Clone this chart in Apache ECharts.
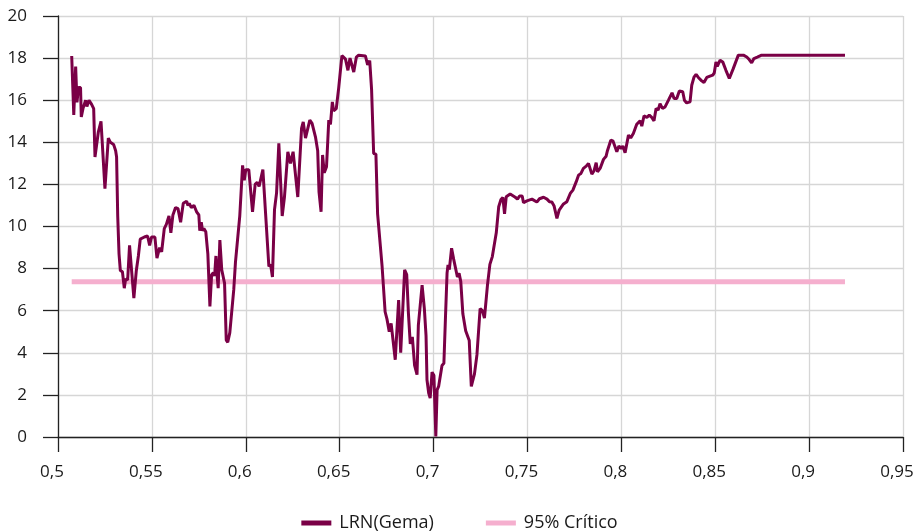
<!DOCTYPE html>
<html>
<head>
<meta charset="utf-8">
<script src="https://cdn.jsdelivr.net/npm/echarts@6/dist/echarts.min.js"></script>
<style>
  html, body { margin: 0; padding: 0; background: #fff; }
  #chart { width: 919px; height: 531px; }
</style>
</head>
<body>
<div id="chart"></div>
<script>
"use strict";

// ── Datos ─────────────────────────────────────────────────────────────────
const xVals = [
  0.5073, 0.5084, 0.5094, 0.5101, 0.5109, 0.5120, 0.5124, 0.5133, 0.5147, 0.5154,
  0.5165, 0.5179, 0.5190, 0.5197, 0.5215, 0.5229, 0.5239, 0.5250, 0.5268, 0.5279,
  0.5296, 0.5307, 0.5312, 0.5318, 0.5325, 0.5332, 0.5343, 0.5353, 0.5360, 0.5371,
  0.5381, 0.5404, 0.5417, 0.5428, 0.5438, 0.5460, 0.5477, 0.5488, 0.5498, 0.5516,
  0.5527, 0.5541, 0.5552, 0.5566, 0.5577, 0.5591, 0.5601, 0.5612, 0.5626, 0.5639,
  0.5653, 0.5667, 0.5685, 0.5692, 0.5699, 0.5710, 0.5724, 0.5738, 0.5750, 0.5755,
  0.5763, 0.5770, 0.5777, 0.5787, 0.5798, 0.5809, 0.5818, 0.5827, 0.5834, 0.5841,
  0.5848, 0.5853, 0.5862, 0.5872, 0.5880, 0.5887, 0.5896, 0.5904, 0.5915, 0.5924,
  0.5936, 0.5945, 0.5954, 0.5968, 0.5983, 0.5992, 0.6000, 0.6016, 0.6036, 0.6050,
  0.6061, 0.6071, 0.6091, 0.6123, 0.6132, 0.6142, 0.6153, 0.6164, 0.6176, 0.6194,
  0.6206, 0.6224, 0.6238, 0.6252, 0.6277, 0.6297, 0.6306, 0.6318, 0.6341, 0.6353,
  0.6371, 0.6383, 0.6390, 0.6401, 0.6409, 0.6418, 0.6430, 0.6442, 0.6451, 0.6461,
  0.6468, 0.6482, 0.6495, 0.6512, 0.6531, 0.6544, 0.6555, 0.6575, 0.6589, 0.6601,
  0.6637, 0.6649, 0.6660, 0.6670, 0.6681, 0.6693, 0.6702, 0.6711, 0.6726, 0.6742,
  0.6752, 0.6764, 0.6774, 0.6784, 0.6796, 0.6814, 0.6825, 0.6846, 0.6857, 0.6866,
  0.6876, 0.6887, 0.6899, 0.6912, 0.6919, 0.6939, 0.6951, 0.6960, 0.6965, 0.6974,
  0.6982, 0.6992, 0.7002, 0.7012, 0.7019, 0.7027, 0.7045, 0.7055, 0.7063, 0.7072,
  0.7077, 0.7084, 0.7096, 0.7107, 0.7117, 0.7127, 0.7136, 0.7145, 0.7156, 0.7171,
  0.7190, 0.7201, 0.7218, 0.7231, 0.7248, 0.7260, 0.7271, 0.7287, 0.7300, 0.7313,
  0.7334, 0.7347, 0.7359, 0.7369, 0.7378, 0.7387, 0.7408, 0.7435, 0.7447, 0.7458,
  0.7472, 0.7479, 0.7497, 0.7524, 0.7550, 0.7564, 0.7586, 0.7604, 0.7617, 0.7630,
  0.7642, 0.7657, 0.7669, 0.7692, 0.7710, 0.7728, 0.7742, 0.7760, 0.7772, 0.7785,
  0.7798, 0.7813, 0.7825, 0.7843, 0.7855, 0.7866, 0.7873, 0.7887, 0.7905, 0.7919,
  0.7926, 0.7944, 0.7955, 0.7976, 0.7987, 0.7999, 0.8008, 0.8020, 0.8038, 0.8050,
  0.8064, 0.8082, 0.8091, 0.8100, 0.8109, 0.8121, 0.8136, 0.8149, 0.8162, 0.8174,
  0.8185, 0.8196, 0.8206, 0.8219, 0.8233, 0.8251, 0.8270, 0.8281, 0.8295, 0.8309,
  0.8327, 0.8336, 0.8348, 0.8366, 0.8375, 0.8387, 0.8398, 0.8410, 0.8428, 0.8440,
  0.8455, 0.8472, 0.8487, 0.8495, 0.8504, 0.8511, 0.8526, 0.8540, 0.8557, 0.8575,
  0.8596, 0.8623, 0.8650, 0.8668, 0.8681, 0.8694, 0.8706, 0.8724, 0.8747, 0.8800,
  0.8900, 0.9000, 0.9100, 0.9191
];

const lrnVals = [
  18.1, 15.3, 17.6, 15.9, 16.6, 16.6, 15.2, 15.6, 16.0, 15.7,
  16.0, 15.8, 15.6, 13.3, 14.5, 15.0, 15.05, 11.8, 14.2, 14.0,
  13.9, 13.6, 13.3, 10.5, 8.7, 7.9, 7.86, 7.07, 7.5, 7.46,
  9.1, 6.6, 7.9, 8.6, 9.4, 9.5, 9.55, 9.1, 9.5, 9.5,
  8.5, 9.0, 8.8, 9.9, 10.1, 10.5, 9.7, 10.55, 10.9, 10.85,
  10.2, 11.1, 11.2, 11.0, 11.1, 10.9, 11.0, 10.7, 10.55, 9.8,
  10.2, 9.8, 9.9, 9.75, 8.7, 6.2, 7.7, 7.8, 7.65, 8.6,
  7.6, 7.07, 9.36, 7.94, 7.6, 7.3, 4.6, 4.5, 4.96, 5.0,
  7.0, 8.3, 8.36, 10.5, 12.9, 12.2, 12.7, 12.7, 10.7, 12.0,
  12.1, 11.9, 12.7, 8.1, 8.2, 7.6, 10.8, 11.6, 13.95, 10.5,
  11.4, 13.55, 13.0, 13.55, 11.4, 14.66, 14.97, 14.2, 15.05, 14.9,
  14.26, 13.6, 11.65, 10.7, 13.4, 12.55, 12.84, 15.05, 14.85, 15.92,
  15.5, 15.6, 16.6, 18.12, 17.95, 17.42, 18.0, 17.34, 18.05, 18.14,
  18.1, 17.68, 17.88, 16.5, 13.47, 13.44, 10.6, 10.6, 8.1, 5.95,
  5.6, 5.0, 5.4, 5.44, 3.67, 6.5, 4.0, 7.94, 7.72, 5.9,
  4.42, 4.76, 3.4, 2.96, 5.3, 7.22, 6.1, 4.8, 2.72, 2.09,
  1.85, 3.08, 2.92, 0.03, 2.24, 2.4, 3.4, 3.5, 5.56, 7.8,
  8.17, 7.95, 8.97, 8.45, 8.52, 7.6, 7.78, 7.38, 5.85, 5.05,
  4.58, 2.4, 3.0, 3.9, 6.1, 6.0, 5.65, 7.2, 8.2, 8.57,
  9.7, 10.94, 11.28, 11.38, 10.6, 11.41, 11.54, 11.39, 11.3, 11.45,
  11.45, 11.13, 11.22, 11.3, 11.16, 11.32, 11.39, 11.3, 11.18, 11.16,
  10.97, 10.39, 10.78, 11.07, 11.18, 11.57, 11.73, 12.13, 12.44, 12.52,
  12.76, 12.87, 13.0, 12.49, 12.65, 13.03, 12.6, 12.76, 13.19, 13.34,
  13.6, 14.1, 14.07, 13.55, 13.83, 13.71, 13.82, 13.5, 14.34, 14.21,
  14.42, 14.86, 14.77, 15.02, 14.77, 15.26, 15.18, 15.29, 15.18, 15.02,
  15.61, 15.53, 15.84, 15.61, 15.68, 16.0, 16.35, 16.08, 16.08, 16.44,
  16.4, 16.0, 15.87, 15.92, 16.71, 17.1, 17.23, 17.08, 16.92, 16.84,
  17.08, 17.14, 17.19, 17.3, 17.82, 17.61, 17.9, 17.82, 17.42, 17.03,
  17.5, 18.14, 18.14, 18.05, 17.93, 17.77, 17.98, 18.05, 18.14, 18.14,
  18.14, 18.14, 18.14, 18.14
];

const critX = [0.5073, 0.9191];
const critVals = [7.38, 7.38];

const seriesNames = ["LRN(Gema)", "95% Crítico"];

// ── Estilo ────────────────────────────────────────────────────────────────
const COLOR_LRN  = "#7a0046";
const COLOR_CRIT = "#f5afce";
const FONT = "'Open Sans', 'Noto Sans', sans-serif";

function fmtComma(v) {
  let s = (Math.round(v * 100) / 100).toFixed(2).replace(/0+$/, "").replace(/\.$/, "");
  return s.replace(".", ",");
}

function renderChart(elementId) {
  const el = document.getElementById(elementId);
  const chart = echarts.init(el, null, { renderer: "canvas" });

  chart.setOption({
    animation: false,
    grid: { left: 58, right: 16, top: 16, bottom: 94 },
    legend: {
      top: 509,
      left: "center",
      icon: "rect",
      itemWidth: 30,
      itemHeight: 5,
      itemGap: 52,
      data: seriesNames,
      textStyle: { fontFamily: FONT, fontSize: 18, color: "#1a1a1a", padding: [0, 0, 0, 3] },
    },
    xAxis: {
      type: "value",
      min: 0.5, max: 0.95, interval: 0.05,
      axisLine:  { onZero: false, lineStyle: { color: "#222", width: 1.3 } },
      axisTick:  { show: true, length: 15, lineStyle: { color: "#222", width: 1.3 } },
      axisLabel: {
        margin: 27, fontFamily: FONT, fontSize: 17, color: "#1a1a1a",
        padding: [0, 12, 0, 0],
        formatter: fmtComma,
      },
      splitLine: { show: true, lineStyle: { color: "#d6d6d6", width: 1.3 } },
    },
    yAxis: {
      type: "value",
      min: 0, max: 20, interval: 2,
      axisLine:  { show: true, lineStyle: { color: "#222", width: 1.3 } },
      axisTick:  { show: true, length: 15, lineStyle: { color: "#222", width: 1.3 } },
      axisLabel: { margin: 31, fontFamily: FONT, fontSize: 17, color: "#1a1a1a" },
      splitLine: { show: true, lineStyle: { color: "#d6d6d6", width: 1.3 } },
    },
    series: [
      {
        name: seriesNames[0],
        type: "line",
        z: 3,
        data: xVals.map((x, i) => [x, lrnVals[i]]),
        showSymbol: false,
        lineStyle: { color: COLOR_LRN, width: 3 },
        itemStyle: { color: COLOR_LRN },
      },
      {
        name: seriesNames[1],
        type: "line",
        z: 2,
        data: critX.map((x, i) => [x, critVals[i]]),
        showSymbol: false,
        lineStyle: { color: COLOR_CRIT, width: 5 },
        itemStyle: { color: COLOR_CRIT },
      },
    ],
  });

  return chart;
}

renderChart("chart");
</script>
</body>
</html>
